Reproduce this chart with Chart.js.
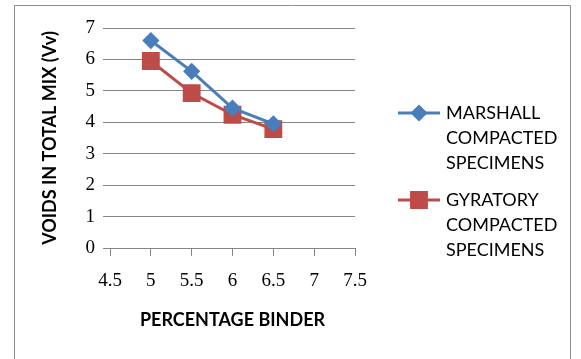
<!DOCTYPE html>
<html>
<head>
<meta charset="utf-8">
<script src="https://cdn.jsdelivr.net/npm/chart.js@4"></script>
<style>
  html, body { margin: 0; padding: 0; background: #fff; }
  #wrap { width: 581px; height: 359px; }
</style>
</head>
<body>
<div id="wrap"><canvas id="myChart" width="581" height="359"></canvas></div>
<script>
const binder = [5, 5.5, 6, 6.5];
const marshall = [6.6, 5.62, 4.45, 3.95];
const gyratory = [5.95, 4.93, 4.24, 3.78];
const seriesNames = [
  ["MARSHALL", "COMPACTED", "SPECIMENS"],
  ["GYRATORY", "COMPACTED", "SPECIMENS"]
];
const xTitle = "PERCENTAGE BINDER";
const yTitle = "VOIDS IN TOTAL MIX (Vv)";

const ctx = document.getElementById('myChart');

const gridGray = "#868686";
const textFont = "Lato, 'Liberation Sans', sans-serif";
const tickFont = "'Liberation Serif', 'DejaVu Serif', serif";

// outer frame like the excel chart area
const frame = {
  id: 'frame',
  beforeDraw(chart) {
    const c = chart.ctx;
    c.save();
    c.strokeStyle = "#8c8c8c";
    c.lineWidth = 1;
    c.beginPath();
    c.moveTo(14.5, 370);
    c.lineTo(14.5, 5.5);
    c.lineTo(570.5, 5.5);
    c.lineTo(570.5, 370);
    c.stroke();
    c.restore();
  }
};

// legend with wrapped labels on the right
const sideLegend = {
  id: 'sideLegend',
  afterDraw(chart) {
    const c = chart.ctx;
    const x0 = 398, x1 = 440, tx = 446, lh = 25;
    const tops = [113, 200];
    c.save();
    chart.data.datasets.forEach((ds, i) => {
      const y = tops[i];
      c.strokeStyle = ds.borderColor;
      c.lineWidth = ds.borderWidth;
      c.beginPath();
      c.moveTo(x0, y);
      c.lineTo(x1, y);
      c.stroke();
      c.fillStyle = ds.pointBackgroundColor;
      c.strokeStyle = ds.pointBorderColor;
      Chart.helpers.drawPoint(c, {
        pointStyle: ds.pointStyle,
        radius: ds.pointRadius,
        borderWidth: 1
      }, (x0 + x1) / 2, y);
      c.fillStyle = "#000";
      c.font = "18px " + textFont;
      c.textAlign = "left";
      c.textBaseline = "middle";
      seriesNames[i].forEach((t, k) => c.fillText(t, tx, y + k * lh));
    });
    c.restore();
  }
};

new Chart(ctx, {
  type: "line",
  data: {
    datasets: [{
      label: seriesNames[0].join(" "),
      data: binder.map((x, i) => ({x: x, y: marshall[i]})),
      borderColor: "#4a7ebb",
      backgroundColor: "#4a7ebb",
      pointBackgroundColor: "#4a7ebb",
      pointBorderColor: "#4a7ebb",
      pointStyle: "rectRot",
      pointRadius: 6.5,
      borderWidth: 3,
      fill: false
    }, {
      label: seriesNames[1].join(" "),
      data: binder.map((x, i) => ({x: x, y: gyratory[i]})),
      borderColor: "#be4b48",
      backgroundColor: "#be4b48",
      pointBackgroundColor: "#be4b48",
      pointBorderColor: "#be4b48",
      pointStyle: "rect",
      pointRadius: 10.5,
      borderWidth: 3,
      fill: false
    }]
  },
  options: {
    responsive: false,
    animation: false,
    layout: { padding: { left: 39, top: 28, right: 226, bottom: 21 } },
    plugins: {
      legend: { display: false },
      tooltip: { enabled: false }
    },
    scales: {
      x: {
        type: "linear",
        min: 4.5,
        max: 7.5,
        afterFit: s => { s.height = 90; },
        ticks: {
          stepSize: 0.5,
          color: "#000",
          padding: 14,
          font: { family: tickFont, size: 19 },
          callback: v => String(v)
        },
        grid: { drawOnChartArea: false, color: gridGray, tickLength: 8 },
        border: { color: gridGray },
        title: {
          display: true,
          text: xTitle,
          color: "#000",
          font: { family: textFont, size: 18, weight: "bold" },
          padding: { top: 0, bottom: 7 }
        }
      },
      y: {
        min: 0,
        max: 7,
        afterFit: s => { s.width = 71; },
        ticks: {
          stepSize: 1,
          color: "#000",
          padding: 8,
          font: { family: tickFont, size: 19 }
        },
        grid: { color: gridGray, tickLength: 7 },
        border: { display: false },
        title: {
          display: true,
          text: yTitle,
          color: "#000",
          font: { family: textFont, size: 18, weight: "bold" },
          padding: 0
        }
      }
    }
  },
  plugins: [frame, sideLegend]
});
</script>
</body>
</html>
